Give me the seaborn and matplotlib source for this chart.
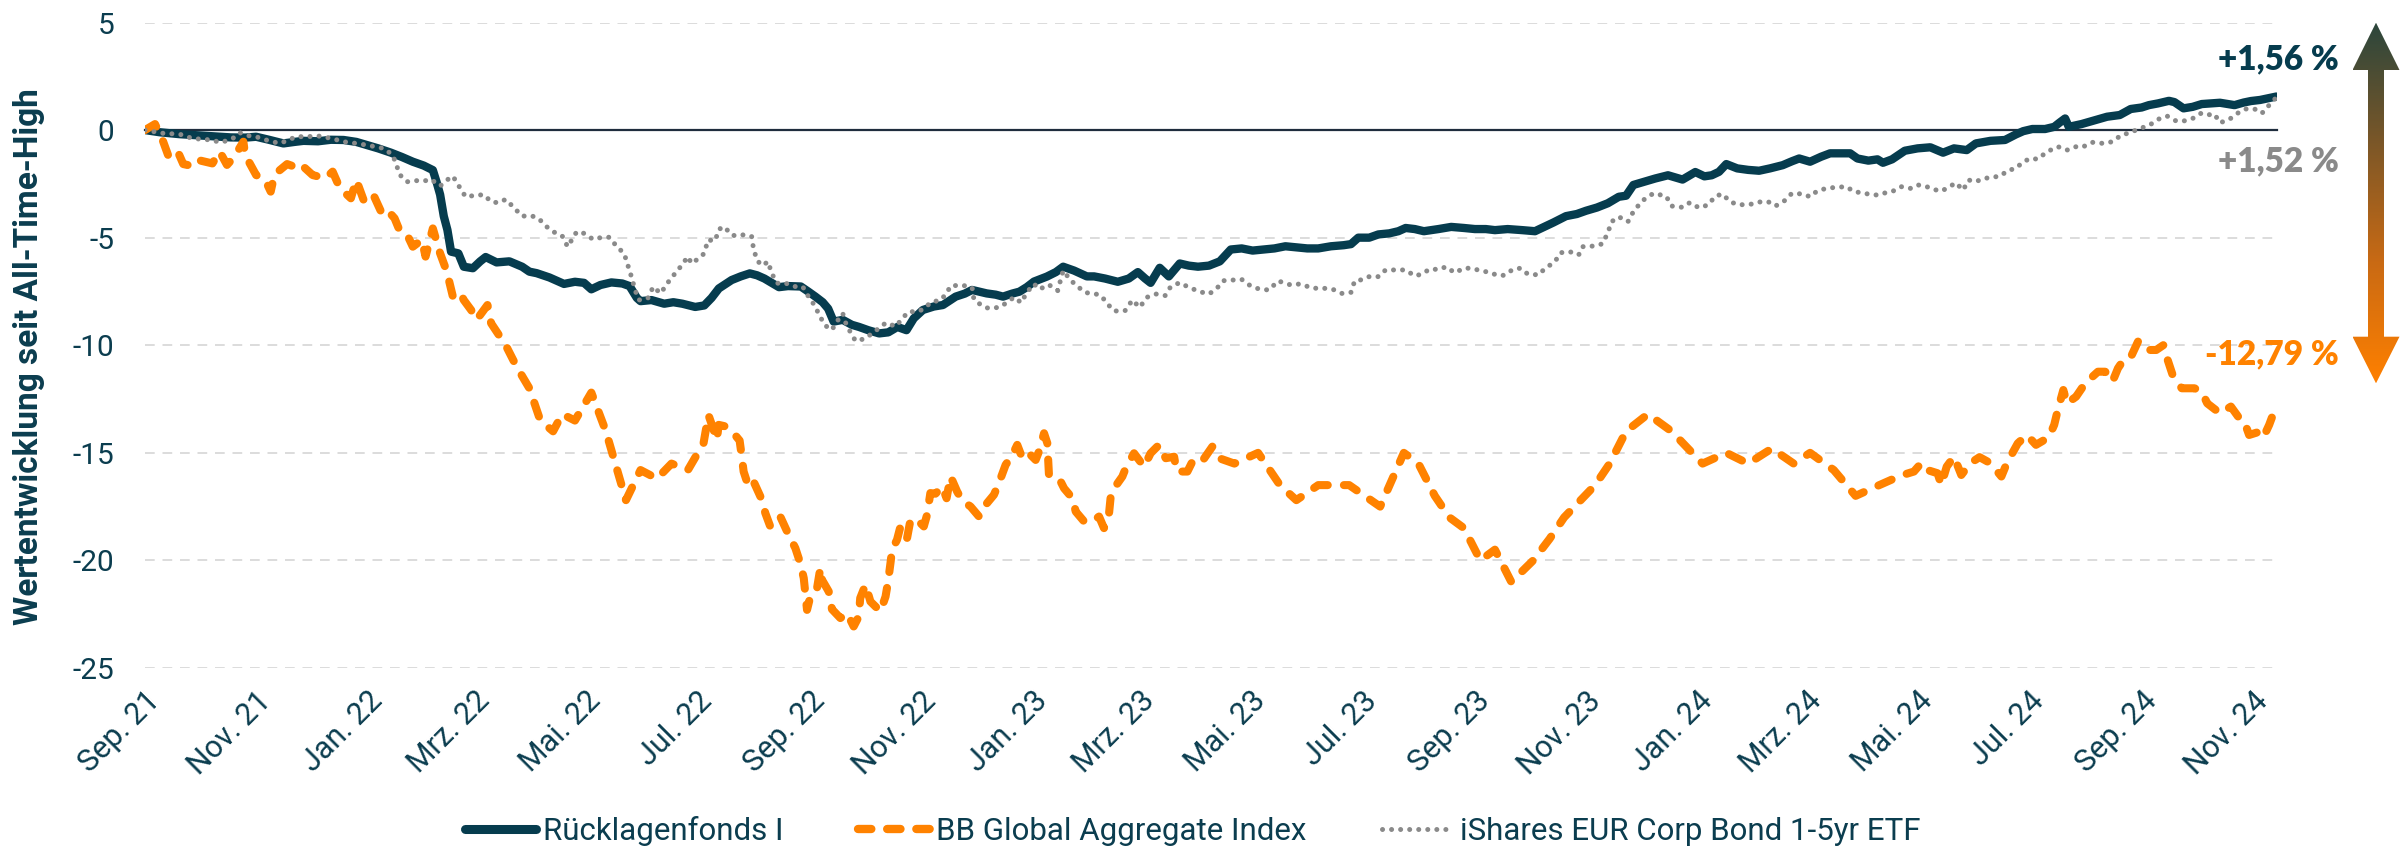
import matplotlib
matplotlib.use("Agg")
import numpy as np
import pandas as pd
import matplotlib.pyplot as plt
import matplotlib.dates as mdates
import matplotlib.transforms as mtrans
from matplotlib.lines import Line2D
from matplotlib.patches import Polygon
from matplotlib.colors import LinearSegmentedColormap
import seaborn as sns

# ---------------- data ----------------
START = pd.Timestamp("2021-09-01")   # day 0 (All-Time-High)
END_DAY = 1170.3

series_names = ["Rücklagenfonds I", "BB Global Aggregate Index", "iShares EUR Corp Bond 1-5yr ETF"]

fonds_days = [0, 8, 19, 30, 47, 55, 61, 68, 76, 82, 87, 95, 102, 109, 116, 122, 128, 135, 141, 147,
              153, 158, 160, 162, 164, 166, 168, 172, 175, 180, 184, 187, 193, 200, 207, 211, 215, 222,
              230, 236, 241, 245, 250, 256, 262, 266, 270, 272, 278, 285, 290, 295, 302, 307, 311, 315,
              322, 327, 332, 336, 340, 344, 348, 353, 360, 364, 368, 372, 375, 378, 383, 388, 392, 397,
              403, 408, 413, 418, 422, 427, 433, 438, 445, 450, 454, 462, 467, 471, 476, 480, 484, 488,
              495, 500, 504, 510, 517, 521, 527, 534, 540, 545, 549, 552, 557, 562, 568, 573, 578, 584,
              590, 596, 602, 608, 614, 620, 626, 632, 638, 644, 651, 658, 662, 666, 672, 677, 683, 688,
              692, 697, 702, 710, 717, 724, 730, 736, 741, 748, 756, 763, 768, 773, 780, 786, 791, 797,
              803, 809, 813, 817, 823, 829, 836, 844, 851, 856, 860, 864, 868, 874, 880, 886, 892, 899,
              904, 908, 914, 920, 925, 931, 936, 940, 946, 951, 954, 959, 966, 973, 980, 987, 993, 1000,
              1005, 1013, 1021, 1027, 1031, 1036, 1043, 1048, 1051, 1054, 1056, 1063, 1070, 1077, 1084,
              1090, 1096, 1100, 1105, 1111, 1114, 1119, 1124, 1129, 1134, 1139, 1147, 1152, 1156, 1161,
              1165, 1170]
fonds_vals = [0.0, -0.1, -0.19, -0.25, -0.34, -0.35, -0.31, -0.45, -0.62, -0.55, -0.5, -0.52, -0.45,
              -0.46, -0.55, -0.7, -0.85, -1.05, -1.25, -1.47, -1.65, -1.86, -2.4, -3.0, -4.0, -4.64,
              -5.65, -5.73, -6.35, -6.42, -6.1, -5.9, -6.15, -6.1, -6.35, -6.58, -6.65, -6.85, -7.15,
              -7.05, -7.1, -7.4, -7.2, -7.08, -7.13, -7.25, -7.8, -7.95, -7.9, -8.07, -8.0, -8.07,
              -8.22, -8.15, -7.8, -7.36, -6.97, -6.8, -6.66, -6.75, -6.9, -7.1, -7.3, -7.25, -7.27,
              -7.5, -7.74, -8.0, -8.3, -8.9, -8.82, -9.05, -9.15, -9.3, -9.45, -9.4, -9.15, -9.3,
              -8.75, -8.36, -8.2, -8.13, -7.74, -7.6, -7.43, -7.59, -7.65, -7.74, -7.6, -7.51, -7.3,
              -7.04, -6.81, -6.6, -6.35, -6.53, -6.8, -6.8, -6.9, -7.05, -6.9, -6.6, -6.9, -7.1, -6.4,
              -6.8, -6.2, -6.3, -6.35, -6.3, -6.1, -5.55, -5.5, -5.6, -5.55, -5.5, -5.4, -5.45, -5.5,
              -5.5, -5.4, -5.35, -5.3, -5.0, -5.0, -4.85, -4.8, -4.7, -4.55, -4.6, -4.7, -4.6, -4.5,
              -4.55, -4.6, -4.6, -4.65, -4.6, -4.65, -4.7, -4.5, -4.3, -4.0, -3.9, -3.75, -3.6, -3.4,
              -3.1, -3.05, -2.55, -2.4, -2.25, -2.1, -2.3, -1.95, -2.15, -2.1, -1.94, -1.58, -1.78,
              -1.85, -1.89, -1.78, -1.63, -1.45, -1.32, -1.47, -1.24, -1.08, -1.08, -1.08, -1.32,
              -1.42, -1.36, -1.52, -1.36, -0.96, -0.85, -0.8, -1.05, -0.85, -0.93, -0.62, -0.5, -0.46,
              -0.2, -0.05, 0.05, 0.05, 0.15, 0.35, 0.54, 0.15, 0.28, 0.45, 0.62, 0.7, 0.98, 1.05, 1.16,
              1.24, 1.36, 1.3, 1.01, 1.08, 1.21, 1.24, 1.27, 1.16, 1.28, 1.35, 1.4, 1.47, 1.56]

bb_days = [0, 5.5, 10, 13, 18, 21, 26, 29, 37, 41,
           45, 49, 54, 55, 59, 61, 66, 69, 71, 73,
           78, 82, 85, 92, 99, 103, 107, 113, 116, 120,
           125, 130, 133, 137, 140, 144, 147, 152, 154, 158,
           162, 165, 167, 169, 173, 175, 179, 182, 188, 190,
           198, 204, 211, 217, 224, 229, 236, 245, 253, 264,
           272, 281, 289, 298, 306.6, 309.3, 312.1, 313.9, 314.9, 319.1,
           323.1, 326.4, 327.6, 328.6, 331.3, 334.1, 338.6, 340.5, 343.2, 348.7,
           353.3, 357, 359.7, 361.6, 363.4, 365.2, 368.9, 370.7, 371.6, 375.3,
           377.1, 381.7, 385.4, 389, 391.8, 392.6, 395.5, 398.2, 403.7, 406.5,
           407.9, 409.2, 410.1, 412.8, 414.7, 418.3, 420.2, 423.8, 427.5, 429.3,
           431.1, 433.9, 437.6, 440, 442.2, 445.8, 448.6, 453.2, 457.8, 461.4,
           466, 468.7, 472.4, 476.1, 478.8, 481.6, 485.2, 488.9, 490.7, 493.5,
           495.3, 496.2, 501.7, 504.5, 509.1, 510.9, 515.5, 520, 523.7, 526.4,
           529.2, 530.1, 531.9, 536.5, 538.3, 542.9, 548.4, 552, 556.6, 560.3,
           564.9, 566.3, 572.2, 574.9, 579.5, 585.9, 589.6, 598, 611, 623,
           632, 644, 661, 678, 691, 699, 708, 716, 724, 733,
           741, 750, 762, 771, 779, 796, 804, 813, 825, 838,
           847, 855, 868, 880, 893, 905, 914, 927, 939, 952,
           960, 966, 971, 975, 978, 984, 986, 989, 993, 997,
           1002, 1007, 1013, 1019, 1022, 1028, 1033, 1038, 1045, 1048,
           1050, 1053, 1055, 1060, 1065, 1072, 1076, 1080, 1083, 1086,
           1090, 1094, 1098, 1104, 1108, 1110, 1113, 1118, 1125, 1129,
           1132, 1139, 1145, 1149, 1152, 1155, 1161, 1163, 1166, 1170]
bb_vals = [0.0, 0.28, -0.54, -1.24, -1.0, -1.58, -1.67, -1.39, -1.55, -1.0,
           -1.62, -1.24, -0.54, -1.16, -1.78, -2.09, -2.32, -2.86, -2.09, -1.93,
           -1.58, -1.7, -1.55, -2.09, -2.24, -1.93, -2.7, -3.17, -2.32, -3.25,
           -2.94, -3.87, -3.72, -4.1, -4.72, -4.88, -5.42, -5.1, -5.88, -4.57,
           -5.73, -6.42, -7.04, -7.74, -7.55, -7.9, -8.36, -8.82, -8.13, -8.98,
           -10.0, -11.0, -12.0, -13.5, -14.0, -13.2, -13.5, -12.2, -14.0, -17.2,
           -15.8, -16.2, -15.5, -15.8, -14.55, -13.24, -13.93, -14.4, -13.7, -13.78,
           -14.09, -14.43, -15.18, -15.87, -16.57, -16.34, -17.18, -17.8, -18.42, -17.96,
           -18.81, -19.43, -20.13, -20.82, -22.3, -21.68, -21.29, -20.36, -20.9, -21.44,
           -22.27, -22.68, -22.45, -23.07, -22.61, -21.75, -21.13, -21.91, -22.37, -21.68,
           -20.98, -20.13, -19.5, -19.04, -18.42, -18.97, -18.11, -18.11, -18.42, -17.88,
           -16.87, -16.9, -16.57, -17.11, -16.1, -16.8, -17.22, -17.5, -17.96, -17.42,
           -16.95, -16.41, -15.56, -15.1, -14.63, -15.25, -15.02, -15.33, -14.94, -14.09,
           -14.55, -16.02, -16.18, -16.65, -17.11, -17.73, -18.19, -18.19, -17.96, -18.5,
           -17.8, -17.03, -16.65, -16.1, -15.72, -15.02, -15.64, -15.02, -14.63, -15.25,
           -15.18, -15.87, -15.87, -15.41, -15.49, -14.71, -15.25, -15.5, -15.0, -16.5,
           -17.2, -16.5, -16.5, -17.5, -15.0, -15.5, -17.0, -18.0, -18.5, -20.0,
           -19.5, -21.0, -20.0, -19.0, -18.0, -16.5, -15.5, -14.0, -13.2, -14.0,
           -14.8, -15.5, -15.0, -15.5, -14.8, -15.5, -15.0, -15.8, -17.0, -16.5,
           -16.2, -16.0, -15.87, -15.48, -15.79, -15.95, -16.49, -15.64, -15.18, -16.03,
           -15.48, -15.2, -15.48, -16.1, -15.48, -14.56, -14.17, -14.63, -14.28, -13.7,
           -13.0, -12.08, -12.7, -12.39, -11.77, -11.23, -11.23, -11.69, -11.07, -10.69,
           -10.56, -9.83, -10.22, -10.22, -9.99, -10.61, -11.38, -12.0, -12.0, -12.16,
           -12.7, -13.16, -12.85, -13.32, -13.47, -14.17, -14.01, -14.25, -13.7, -12.79]

ishares_days = [0, 10, 19, 26, 35, 42, 48, 52, 56, 61, 68, 74, 79, 83, 90, 96, 103, 109, 116, 122, 131,
                136, 140, 144, 149, 153, 157, 162, 167, 169, 173, 176, 180, 186, 190, 194, 198, 202, 207,
                212, 216, 220, 224, 229, 232, 237, 241, 246, 250, 255, 259, 263, 265, 267, 269, 271, 276,
                279, 283, 288, 294, 298, 300, 304, 307, 309, 313, 315, 318, 322, 325, 329, 333, 334, 336,
                339, 342, 344, 347, 351, 356, 361, 364, 367, 370, 373, 377, 381, 383, 385, 390, 395, 400,
                405, 407, 412, 419, 424, 427, 432, 436, 440, 442, 448, 454, 455, 460, 463, 469, 473, 477,
                481, 484, 488, 491, 496, 501, 504, 508, 511, 516, 522, 525, 528, 532, 538, 542, 546, 550,
                555, 560, 563, 568, 573, 579, 584, 588, 592, 597, 602, 607, 612, 617, 622, 629, 634, 641,
                647, 652, 657, 662, 664, 669, 672, 677, 681, 687, 692, 697, 701, 705, 711, 714, 719, 724,
                728, 733, 739, 742, 746, 751, 755, 759, 765, 768, 774, 777, 782, 787, 789, 795, 800, 803,
                805, 809, 814, 817, 820, 823, 828, 835, 838, 844, 848, 853, 858, 862, 866, 870, 875, 879,
                882, 887, 891, 895, 900, 904, 910, 914, 918, 923, 928, 934, 938, 942, 947, 951, 954, 959,
                964, 969, 973, 977, 981, 986, 990, 994, 998, 1001, 1005, 1009, 1014, 1019, 1022, 1027,
                1031, 1035, 1039, 1044, 1050, 1055, 1061, 1064, 1069, 1075, 1080, 1085, 1090, 1094, 1100,
                1105, 1110, 1115, 1119, 1124, 1129, 1134, 1136, 1139, 1144, 1149, 1153, 1158, 1162, 1166,
                1170]
ishares_vals = [0.0, -0.15, -0.19, -0.39, -0.45, -0.57, -0.4, -0.12, -0.25, -0.31, -0.5, -0.62, -0.45,
                -0.31, -0.3, -0.28, -0.4, -0.54, -0.62, -0.7, -0.85, -1.16, -2.09, -2.4, -2.35, -2.37,
                -2.29, -2.6, -2.24, -2.14, -2.7, -3.1, -3.05, -3.0, -3.33, -3.38, -3.22, -3.56, -4.0,
                -3.98, -4.1, -4.46, -4.72, -4.92, -5.42, -4.72, -4.8, -5.08, -5.0, -4.98, -5.42, -5.73,
                -6.27, -6.81, -7.43, -7.9, -7.82, -7.28, -7.59, -6.97, -6.35, -5.88, -6.2, -5.96, -5.73,
                -5.11, -5.14, -4.61, -4.49, -4.88, -4.92, -4.86, -4.95, -5.5, -6.07, -6.3, -6.11, -6.66,
                -7.12, -7.09, -7.27, -7.27, -7.71, -8.08, -8.56, -9.06, -9.29, -8.75, -8.52, -9.06, -9.8,
                -9.7, -9.4, -9.06, -8.95, -9.13, -8.44, -8.44, -8.33, -7.97, -7.93, -7.62, -7.25, -7.2,
                -7.31, -7.87, -8.2, -8.28, -8.24, -8.02, -7.77, -8.02, -7.55, -7.15, -7.4, -7.18, -7.46,
                -6.53, -6.97, -7.2, -7.55, -7.62, -7.71, -8.05, -8.41, -8.39, -7.9, -8.24, -7.77, -7.62,
                -7.69, -7.28, -7.09, -7.31, -7.51, -7.62, -7.39, -7.0, -6.97, -6.94, -7.25, -7.4, -7.43,
                -7.01, -7.2, -7.15, -7.35, -7.35, -7.4, -7.59, -7.54, -7.01, -6.94, -6.81, -6.81, -6.5,
                -6.5, -6.5, -6.78, -6.69, -6.47, -6.47, -6.35, -6.63, -6.42, -6.42, -6.53, -6.63, -6.75,
                -6.75, -6.47, -6.42, -6.69, -6.73, -6.47, -6.11, -5.7, -5.65, -5.8, -5.42, -5.39, -5.29,
                -4.77, -4.26, -4.03, -4.26, -3.79, -3.48, -3.22, -2.94, -3.07, -3.53, -3.59, -3.37, -3.61,
                -3.48, -3.07, -2.97, -3.33, -3.48, -3.45, -3.44, -3.33, -3.33, -3.53, -3.28, -2.94, -2.97,
                -3.1, -2.82, -2.71, -2.66, -2.63, -2.86, -2.91, -2.99, -3.02, -2.94, -2.86, -2.63, -2.71,
                -2.55, -2.59, -2.74, -2.84, -2.66, -2.45, -2.79, -2.32, -2.4, -2.25, -2.2, -2.12, -1.89,
                -1.78, -1.47, -1.32, -1.35, -1.01, -0.77, -0.93, -0.74, -0.77, -0.57, -0.62, -0.54, -0.22,
                -0.12, 0.05, 0.21, 0.5, 0.65, 0.42, 0.42, 0.54, 0.8, 0.7, 0.74, 0.34, 0.49, 0.8, 0.98,
                0.98, 0.78, 1.16, 1.52]

tick_labels = ["Sep. 21", "Nov. 21", "Jan. 22", "Mrz. 22", "Mai. 22", "Jul. 22", "Sep. 22", "Nov. 22",
               "Jan. 23", "Mrz. 23", "Mai. 23", "Jul. 23", "Sep. 23", "Nov. 23", "Jan. 24", "Mrz. 24",
               "Mai. 24", "Jul. 24", "Sep. 24", "Nov. 24"]
y_ticks = [5, 0, -5, -10, -15, -20, -25]
y_label = "Wertentwicklung seit All-Time-High"

# ---------------- style ----------------
DARK = "#063c4e"
ORANGE = "#ff8200"
GRAY = "#8a8a8a"
TEXT = "#0b3d4f"
AXIS = "#1f2d3d"

sns.set_theme(style="white")
plt.rcParams["font.family"] = ["Roboto", "DejaVu Sans"]

W_PX, H_PX = 2404, 849
fig = plt.figure(figsize=(W_PX / 100, H_PX / 100), dpi=100)
ax = fig.add_axes([145 / W_PX, (H_PX - 668) / H_PX, (2277 - 145) / W_PX, (668 - 22.5) / H_PX])


def to_dates(days):
    return START + pd.to_timedelta(np.asarray(days, dtype=float), unit="D")


styles = [
    dict(color=DARK, linewidth=6.0, solid_capstyle="round", solid_joinstyle="round"),
    dict(color=ORANGE, linewidth=5.8, linestyle=(0, (1.8, 2.0)), dash_capstyle="round",
         dash_joinstyle="round"),
    dict(color=GRAY, linewidth=3.6, linestyle=(0, (0.01, 1.8)), dash_capstyle="round"),
]
all_days = [fonds_days, bb_days, ishares_days]
all_vals = [fonds_vals, bb_vals, ishares_vals]

for name, d, v, st in zip(series_names, all_days, all_vals, styles):
    df = pd.DataFrame({"date": to_dates(d), "value": v})
    sns.lineplot(data=df, x="date", y="value", ax=ax, estimator=None, errorbar=None,
                 legend=False, **st)

ax.set_xlim(START, START + pd.Timedelta(days=END_DAY))
ax.set_ylim(min(y_ticks), max(y_ticks))

tick_dates = pd.date_range(START, periods=len(tick_labels), freq="2MS")
ax.set_xticks(tick_dates)
ax.tick_params(axis="x", direction="out", length=6.5, width=1.5, color=AXIS, labelbottom=False)
for s in ["top", "right", "left"]:
    ax.spines[s].set_visible(False)
ax.spines["bottom"].set_position(("data", 0))
ax.spines["bottom"].set_color(AXIS)
ax.spines["bottom"].set_linewidth(1.6)
ax.spines["bottom"].set_zorder(1.5)

sec = ax.secondary_xaxis(0.0)
sec.set_xticks(mdates.date2num(tick_dates), labels=tick_labels, rotation=45, ha="right",
               rotation_mode="anchor")
sec.tick_params(length=0, pad=13, labelsize=22, labelcolor=TEXT)
sec.spines["bottom"].set_visible(False)

ax.set_yticks(y_ticks, labels=[str(t) for t in y_ticks])
ax.tick_params(axis="y", length=0, pad=22, labelsize=21.5, labelcolor=TEXT)
ax.grid(axis="y", color="#dcdcdc", linestyle=(0, (5, 4)), linewidth=1.4)
ax.grid(axis="x", visible=False)
ax.set_axisbelow(True)
ax.set_xlabel("")
ax.set_ylabel(y_label, fontsize=24, fontweight="bold", color=TEXT)
ax.yaxis.set_label_coords(-0.047, 0.483)


# end-value annotations
def fmt(v):
    return f"{v:+.2f} %".replace(".", ",")


trans = mtrans.blended_transform_factory(ax.transAxes, ax.transData)
ann_y = [fonds_vals[-1] + 1.75, ishares_vals[-1] - 2.95, bb_vals[-1] + 2.37]
ann_c = [DARK, GRAY, ORANGE]
ann_v = [fonds_vals[-1], ishares_vals[-1], bb_vals[-1]]
for yv, c, v in zip(ann_y, ann_c, ann_v):
    ax.text(1.029, yv, fmt(v), transform=trans, ha="right", va="center", fontsize=24,
            fontweight="heavy", family=["Lato", "DejaVu Sans"], color=c, clip_on=False)

# gradient double arrow (decoration)
aax = fig.add_axes([2352.5 / W_PX, (H_PX - 383.3) / H_PX, 47 / W_PX, (383.3 - 22.7) / H_PX])
aax.set_xlim(0, 1)
aax.set_ylim(0, 1)
aax.axis("off")
hb_top = 1 - 47.3 / 360.6
hb_bot = 46.6 / 360.6
sw = 8 / 47
poly = Polygon([(0.5, 1), (1, hb_top), (0.5 + sw, hb_top), (0.5 + sw, hb_bot), (1, hb_bot), (0.5, 0),
                (0, hb_bot), (0.5 - sw, hb_bot), (0.5 - sw, hb_top), (0, hb_top)],
               closed=True, facecolor="none", edgecolor="none", transform=aax.transData)
aax.add_patch(poly)
cmap = LinearSegmentedColormap.from_list("arr", ["#ff8000", "#c96a14", "#7b5728", "#2b463c"])
grad = np.linspace(0, 1, 256).reshape(-1, 1)
im = aax.imshow(grad, extent=[0, 1, 0, 1], origin="lower", aspect="auto", cmap=cmap)
im.set_clip_path(poly)

# legend
handles = [
    Line2D([], [], color=DARK, linewidth=6.5, solid_capstyle="round"),
    Line2D([], [], color=ORANGE, linewidth=6, linestyle=(0, (1.6, 1.9)), dash_capstyle="round"),
    Line2D([], [], color=GRAY, linewidth=3.6, linestyle=(0, (0.01, 1.8)), dash_capstyle="round"),
]
fig.legend(handles, series_names, loc="center", bbox_to_anchor=(0.496, 0.021), ncol=3, frameon=False,
           fontsize=22.5, handlelength=2.3, handletextpad=0.2, columnspacing=2.4, labelcolor=TEXT)

fig.savefig("out.png", dpi=100)
